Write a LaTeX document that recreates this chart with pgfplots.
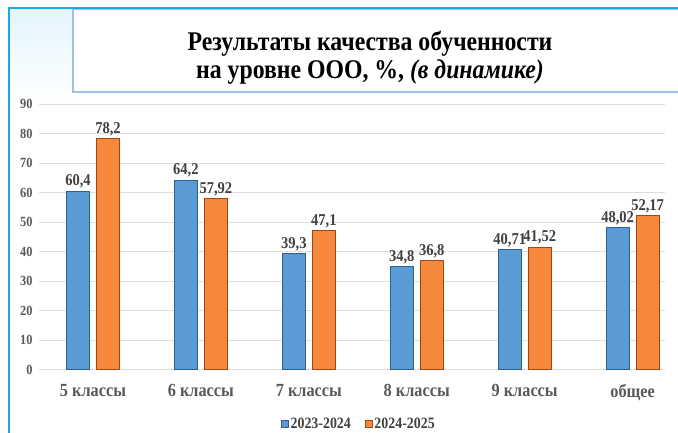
\documentclass[border=0pt]{standalone}
\usepackage{pgfplots}
\pgfplotsset{compat=1.18}
\usepackage{fontspec}
\setmainfont{Liberation Serif}[FakeStretch=0.88]
\definecolor{frameblue}{HTML}{1AA7EC}
\definecolor{boxblue}{HTML}{9DC3E6}
\definecolor{barblue}{HTML}{5B9BD5}
\definecolor{barblueD}{HTML}{2F5F8C}
\definecolor{barorange}{HTML}{F7873A}
\definecolor{barorangeD}{HTML}{9A4A12}
\definecolor{txt}{HTML}{404040}
\definecolor{txtl}{HTML}{595959}
\begin{document}
\begin{tikzpicture}[x=1pt,y=1pt]
\useasboundingbox (0,0) rectangle (678,432);
\begin{scope}
\clip (0,0) rectangle (678,432);
\shade[top color=frameblue!12, bottom color=white] (10,330) rectangle (73,423);
\draw[boxblue, line width=1.3pt] (73,340) rectangle (690,423);
\draw[frameblue, line width=2.6pt] (9,-5) -- (9,424) -- (690,424);
\end{scope}
\node[align=center, font=\bfseries\fontsize{27}{28}\selectfont, inner sep=0] at (370,374)
  {Результаты качества обученности\\на уровне ООО, \%, \textit{(в динамике)}};
\begin{axis}[
  at={(39pt,62.5pt)}, anchor=south west,
  scale only axis, width=626pt, height=265.5pt,
  xmin=-0.5, xmax=5.3, ymin=0, ymax=90,
  ybar=7pt, bar width=23pt,
  axis line style={draw=none},
  major tick length=0pt,
  ytick={0,10,...,90},
  ymajorgrids, grid style={draw=black!13, line width=0.8pt},
  xtick={0,1,2,3,4,5},
  xticklabels={5 классы,6 классы,7 классы,8 классы,9 классы,общее},
  xticklabel style={font=\bfseries\fontsize{18.5}{20}\selectfont, text=txtl, yshift=-11pt},
  yticklabel style={font=\bfseries\fontsize{14}{16}\selectfont, text=txtl, xshift=-3pt},
  /pgf/number format/assume math mode=true,
  nodes near coords={\pgfmathprintnumber[use comma]{\pgfplotspointmeta}},
  nodes near coords style={font=\bfseries\fontsize{16.5}{18}\selectfont, text=txt, yshift=-1pt},
  legend style={at={(0.511,-0.205)}, anchor=center, draw=none, fill=none,
    legend columns=2, font=\bfseries\fontsize{15.8}{17}\selectfont, text=txt,
    /tikz/every even column/.append style={column sep=12pt},
    /tikz/every odd column/.append style={column sep=0pt}},
  legend image code/.code={\draw[#1, line width=0.6pt] (2pt,-3.5pt) rectangle (9pt,3.5pt);},
]
\addplot[fill=barblue, draw=barblueD, line width=1pt] coordinates
  {(0,60.4) (1,64.2) (2,39.3) (3,34.8) (4,40.71) (5,48.02)};
\addplot[fill=barorange, draw=barorangeD, line width=1pt] coordinates
  {(0,78.2) (1,57.92) (2,47.1) (3,36.8) (4,41.52) (5,52.17)};
\legend{2023-2024,2024-2025}
\end{axis}
\end{tikzpicture}
\end{document}
